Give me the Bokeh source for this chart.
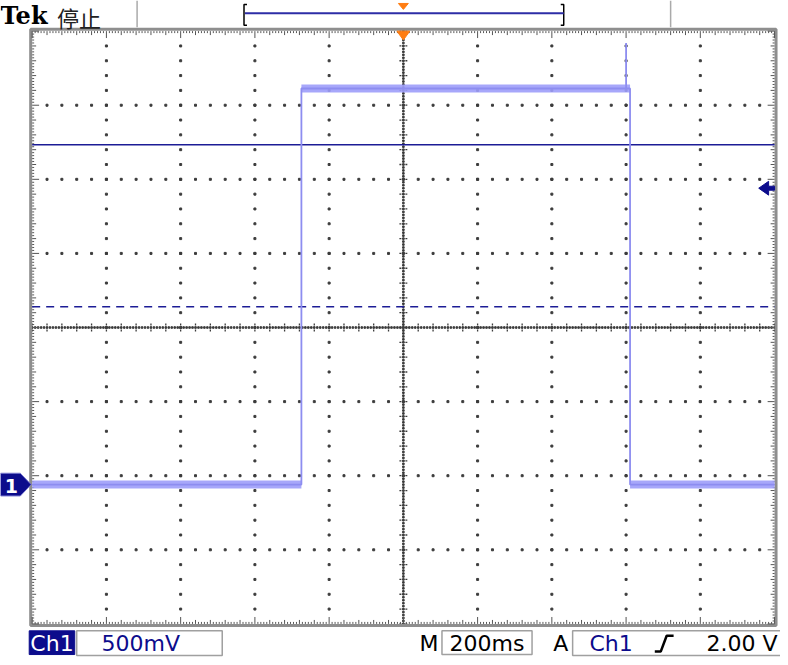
import numpy as np
from bokeh.plotting import figure
from bokeh.models import Range1d
from bokeh.core.properties import value
from bokeh.embed import file_html
from bokeh.resources import INLINE

volts_per_div = 0.5          # Ch1 500mV
sec_per_div = 0.2            # M 200ms
n_div_x = 10
n_div_y = 8
ch1_position_div = 2.12      # ground marker "1" sits 2.12 div below centre
trigger_level_v = 2.00       # A Ch1 rising 2.00 V
trigger_time_s = 0.0

# Ch1 trace (time in s, voltage in V)
trace_t = [-1.000, -0.2747, -0.2747, 0.6000, 0.6000, 0.6000, 0.6107, 0.6107, 1.000]
trace_v = [0.000, 0.000, 2.673, 2.673, 2.980, 2.673, 2.673, 0.000, 0.000]
# flat (noisy) parts of the trace
flat_t0 = [-1.000, -0.2747, 0.6107]
flat_t1 = [-0.2747, 0.6107, 1.000]
flat_v = [0.000, 2.673, 0.000]

cursor_solid_v = 2.293
cursor_dash_v = 1.200

header_title = "Tek"
header_state = "停止"
ch_label = "Ch1"
scale_label = "500mV"
time_prefix = "M"
time_label = "200ms"
trig_prefix = "A"
trig_source = "Ch1"
trig_label = "2.00 V"
marker_label = "1"

# ---------------- layout (reference pixel space) ----------------
W_REF, H_REF = 788, 665
PX = 75.0                     # pixels per division
CX, CY = 407, 331             # graticule centre
G_L, G_R, G_T, G_B = 32, 782, 31, 631

NAVY = "#0c0c8c"
TRACE = "#9d9dfa"
TRACE_CORE = "#8d8df0"
ORANGE = "#ff7d12"
GRAY = "#8e8e8e"
DOT = "#3c3c3c"
FONT = value("DejaVu Sans")

p = figure(width=780, height=657,
           x_range=Range1d(0, W_REF), y_range=Range1d(H_REF, 0),
           output_backend="svg", toolbar_location=None,
           x_axis_location=None, y_axis_location=None, min_border=0)
p.outline_line_color = None
p.grid.visible = False
p.background_fill_color = "white"
p.border_fill_color = "white"

centre_v = ch1_position_div * volts_per_div
t_lo = (0 - CX) / PX * sec_per_div + trigger_time_s
t_hi = (W_REF - CX) / PX * sec_per_div + trigger_time_s
v_lo = centre_v - (H_REF - CY) / PX * volts_per_div
v_hi = centre_v + CY / PX * volts_per_div
p.extra_x_ranges = {"t": Range1d(t_lo, t_hi)}
p.extra_y_ranges = {"v": Range1d(v_lo, v_hi)}

t_left = trigger_time_s - n_div_x / 2 * sec_per_div
v_bottom = centre_v - n_div_y / 2 * volts_per_div

# ---------------- graticule dots (data space) ----------------
gx, gy = [], []
for i in range(1, n_div_x):
    if i == n_div_x // 2:
        continue
    t = t_left + i * sec_per_div
    for j in range(1, n_div_y * 5):
        gx.append(t)
        gy.append(v_bottom + j * volts_per_div / 5)
for k in range(1, n_div_y):
    if k == n_div_y // 2:
        continue
    v = v_bottom + k * volts_per_div
    for j in range(1, n_div_x * 5):
        gx.append(t_left + j * sec_per_div / 5)
        gy.append(v)
p.scatter(gx, gy, marker="square", size=2, color=DOT,
          x_range_name="t", y_range_name="v")

# ---------------- centre cross (pixel space) ----------------
hx = np.arange(G_L, G_R + 1, 3)
p.scatter(hx, np.full(len(hx), CY), marker="square", size=1.6, color=DOT)
vy = np.arange(G_T, G_B + 1, 3)
p.scatter(np.full(len(vy), CX), vy, marker="square", size=1.6, color=DOT)
tx = np.arange(G_L, G_R + 1, 15)
p.segment(tx, CY - 4, tx, CY + 4, line_color=DOT, line_width=1.3, line_dash="2 1")
ty = np.arange(G_T, G_B + 1, 15)
p.segment(CX - 4, ty, CX + 4, ty, line_color=DOT, line_width=1.3, line_dash="2 1")

# ---------------- border with ruler ticks ----------------
p.quad(left=G_L - 1.5, right=G_R + 1.5, top=G_T - 2, bottom=G_B + 1.5,
       fill_color=None, line_color=GRAY, line_width=3)
rx = np.arange(G_L, G_R + 1, 3)
ry = np.arange(G_T, G_B + 1, 3)
rl_x = [2 + 2 * (v % 15 == 0) + 3 * (v % 75 == 0) for v in (rx - G_L)]
rl_y = [2 + 2 * (v % 15 == 0) + 3 * (v % 75 == 0) for v in (ry - G_T)]
p.segment(rx, G_T, rx, G_T + np.array(rl_x), line_color="#555555", line_width=1)
p.segment(rx, G_B, rx, G_B - np.array(rl_x), line_color="#555555", line_width=1)
p.segment(G_L, ry, G_L + np.array(rl_y), ry, line_color="#555555", line_width=1)
p.segment(G_R, ry, G_R - np.array(rl_y), ry, line_color="#555555", line_width=1)

# ---------------- cursors (data space) ----------------
p.segment([t_left], [cursor_solid_v], [-t_left], [cursor_solid_v],
          line_color="#1c1c96", line_width=1.5, x_range_name="t", y_range_name="v")
p.segment([t_left], [cursor_dash_v], [-t_left], [cursor_dash_v],
          line_color="#1c1c96", line_width=1.5, line_dash="8 6",
          x_range_name="t", y_range_name="v")

# ---------------- Ch1 trace ----------------
p.segment(flat_t0, flat_v, flat_t1, flat_v, line_color=TRACE, line_width=8,
          line_alpha=0.9, x_range_name="t", y_range_name="v")
p.line(trace_t, trace_v, line_color=TRACE_CORE, line_width=1.8,
       x_range_name="t", y_range_name="v")

# ---------------- trigger markers ----------------
trig_px_y = CY - (trigger_level_v - centre_v) / volts_per_div * PX
p.patch([G_R - 16, G_R - 6, G_R - 6, G_R, G_R, G_R - 6, G_R - 6],
        [trig_px_y, trig_px_y - 7, trig_px_y - 2, trig_px_y - 2,
         trig_px_y + 2, trig_px_y + 2, trig_px_y + 7],
        fill_color=NAVY, line_color=NAVY)
p.patch([CX - 6.5, CX + 6.5, CX], [G_T, G_T, G_T + 9], fill_color=ORANGE, line_color=ORANGE)

# ground marker "1"
gnd_px_y = CY + ch1_position_div * PX
p.patch([0, 20, 31, 20, 0], [gnd_px_y - 11.5, gnd_px_y - 11.5, gnd_px_y,
                             gnd_px_y + 11.5, gnd_px_y + 11.5],
        fill_color=NAVY, line_color="#7a7ad0", line_width=1)
p.text([11], [gnd_px_y + 1], text=[marker_label], text_font=FONT, text_font_style="bold",
       text_font_size="19px", text_color="white", text_align="center", text_baseline="middle")

# ---------------- header ----------------
p.text([0], [15], text=[header_title], text_font=value("DejaVu Serif"),
       text_font_style="bold", text_font_size="24px", text_color="black",
       text_align="left", text_baseline="alphabetic")
p.text([57], [17], text=[header_state], text_font=value("Noto Sans CJK SC"),
       text_font_size="22px", text_color="#222222", text_align="left",
       text_baseline="alphabetic")
p.segment([138, 677], [0, 0], [138, 677], [27, 27], line_color="#aaaaaa", line_width=1.5)
# bracket showing record window
p.line([249, 246, 246, 249], [4, 4, 25, 25], line_color="black", line_width=1.5)
p.line([566, 569, 569, 566], [4, 4, 25, 25], line_color="black", line_width=1.5)
p.segment([247], [13], [569], [13], line_color="#2d2da6", line_width=2)
p.patch([CX - 5, CX + 5, CX], [3, 3, 9], fill_color=ORANGE, line_color=ORANGE)

# ---------------- footer ----------------
FY = 651
p.quad(left=29, right=75, top=638, bottom=662, fill_color=NAVY, line_color=NAVY)
p.text([52], [FY], text=[ch_label], text_font=FONT, text_font_size="22px",
       text_color="white", text_align="center", text_baseline="middle")
p.quad(left=77, right=224, top=638, bottom=663, fill_color=None, line_color="#a0a0a0", line_width=1.5)
p.text([102], [FY], text=[scale_label], text_font=FONT, text_font_size="22px",
       text_color=NAVY, text_align="left", text_baseline="middle")
p.text([433], [FY], text=[time_prefix], text_font=FONT, text_font_size="22px",
       text_color="black", text_align="center", text_baseline="middle")
p.quad(left=446, right=537, top=638, bottom=662, fill_color=None, line_color="#a0a0a0", line_width=1.5)
p.text([491.5], [FY], text=[time_label], text_font=FONT, text_font_size="22px",
       text_color="black", text_align="center", text_baseline="middle")
p.text([566], [FY], text=[trig_prefix], text_font=FONT, text_font_size="22px",
       text_color="black", text_align="center", text_baseline="middle")
p.quad(left=578, right=795, top=638, bottom=663, fill_color=None, line_color="#a0a0a0", line_width=1.5)
p.text([595], [FY], text=[trig_source], text_font=FONT, text_font_size="22px",
       text_color=NAVY, text_align="left", text_baseline="middle")
p.line([661, 667, 673, 680], [659, 659, 643, 643], line_color="black", line_width=2.5)
p.text([785], [FY], text=[trig_label], text_font=FONT, text_font_size="22px",
       text_color="black", text_align="right", text_baseline="middle")

open("out.html", "w").write(file_html(p, INLINE))
